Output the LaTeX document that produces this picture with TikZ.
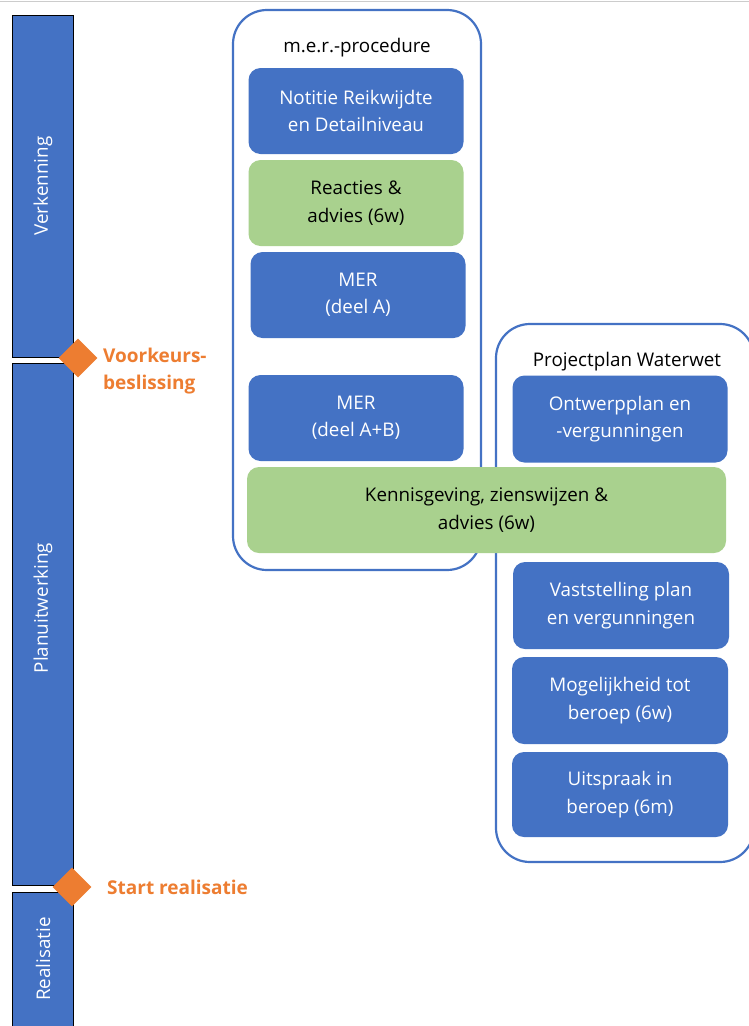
\documentclass[tikz,border=0pt]{standalone}
\usepackage{fontspec}
\setmainfont{Open Sans}
\usetikzlibrary{shapes.geometric}
\definecolor{boxblue}{HTML}{4472C4}
\definecolor{boxgreen}{HTML}{A9D18E}
\definecolor{msorange}{HTML}{ED7D31}
\begin{document}
\begin{tikzpicture}[x=1pt,y=-1pt,
  bodyfont/.style={font=\fontsize{18.8}{27.5}\selectfont},
  bluebox/.style={fill=boxblue, rounded corners=12pt, text=white, align=center, inner sep=0pt, bodyfont},
  greenbox/.style={fill=boxgreen, rounded corners=12pt, text=black, align=center, inner sep=0pt, bodyfont},
  container/.style={draw=boxblue, line width=2.2pt, rounded corners=34pt, inner sep=0pt},
  phase/.style={draw=black, fill=boxblue, line width=1pt, inner sep=0pt, minimum width=61pt},
  phaselabel/.style={rotate=90, text=white, bodyfont},
  milestone/.style={diamond, fill=msorange, minimum width=39pt, minimum height=39pt, inner sep=0pt},
  mslabel/.style={text=msorange, font=\fontsize{19}{27}\selectfont\bfseries, align=left, anchor=west, inner sep=0pt},
  titlelabel/.style={text=black, bodyfont, inner sep=0pt}]
\useasboundingbox (0,0) rectangle (749,1026);
\clip (0,0) rectangle (749,1026);
\fill[white] (0,0) rectangle (749,1026);
\draw[black!20, line width=1.5pt] (0,1.5) -- (749,1.5);
% phase bars
\node[phase, minimum height=342pt] (verk) at (43,186) {};
\node[phaselabel] (verkl) at (verk.center) {Verkenning};
\node[phase, minimum height=522pt] (plan) at (43,624) {};
\node[phaselabel] (planl) at (43,608) {Planuitwerking};
\node[phase, minimum height=160pt] (real) at (43,972) {};
\node[phaselabel] (reall) at (43,959) {Realisatie};
% milestones
\node[milestone] (vb) at (78,358) {};
\node[mslabel] (vbl) at (103,371) {Voorkeurs-\\beslissing};
\node[milestone] (sr) at (72,887) {};
\node[mslabel] (srl) at (107,887) {Start realisatie};
% containers
\node[container, minimum width=248pt, minimum height=560pt] (mer) at (357,290) {};
\node[titlelabel] (mert) at (357,48) {m.e.r.-procedure};
\node[container, minimum width=258pt, minimum height=538pt] (pw) at (625,593) {};
\node[titlelabel] (pwt) at (627,362) {Projectplan Waterwet};
% m.e.r. boxes
\node[bluebox, minimum width=215pt, minimum height=86pt] (nrd) at (356,111) {Notitie Reikwijdte\\en Detailniveau};
\node[greenbox, minimum width=215pt, minimum height=86pt] (ra) at (356,203) {Reacties \&\\advies (6w)};
\node[bluebox, minimum width=215pt, minimum height=86pt] (mera) at (358,295) {MER\\(deel A)};
\node[bluebox, minimum width=215pt, minimum height=86pt] (merab) at (356,418) {MER\\(deel A+B)};
% projectplan boxes
\node[bluebox, minimum width=215pt, minimum height=87pt] (ow) at (620,419) {Ontwerpplan en\\-vergunningen};
\node[greenbox, minimum width=479pt, minimum height=86pt] (kz) at (486.5,510) {Kennisgeving, zienswijzen \&\\advies (6w)};
\node[bluebox, minimum width=216pt, minimum height=87pt] (vs) at (621,605.5) {Vaststelling plan\\en vergunningen};
\node[bluebox, minimum width=216pt, minimum height=87pt] (mb) at (620,700.5) {Mogelijkheid tot\\beroep (6w)};
\node[bluebox, minimum width=216pt, minimum height=85pt] (ub) at (620,794.5) {Uitspraak in\\beroep (6m)};
\end{tikzpicture}
\end{document}
